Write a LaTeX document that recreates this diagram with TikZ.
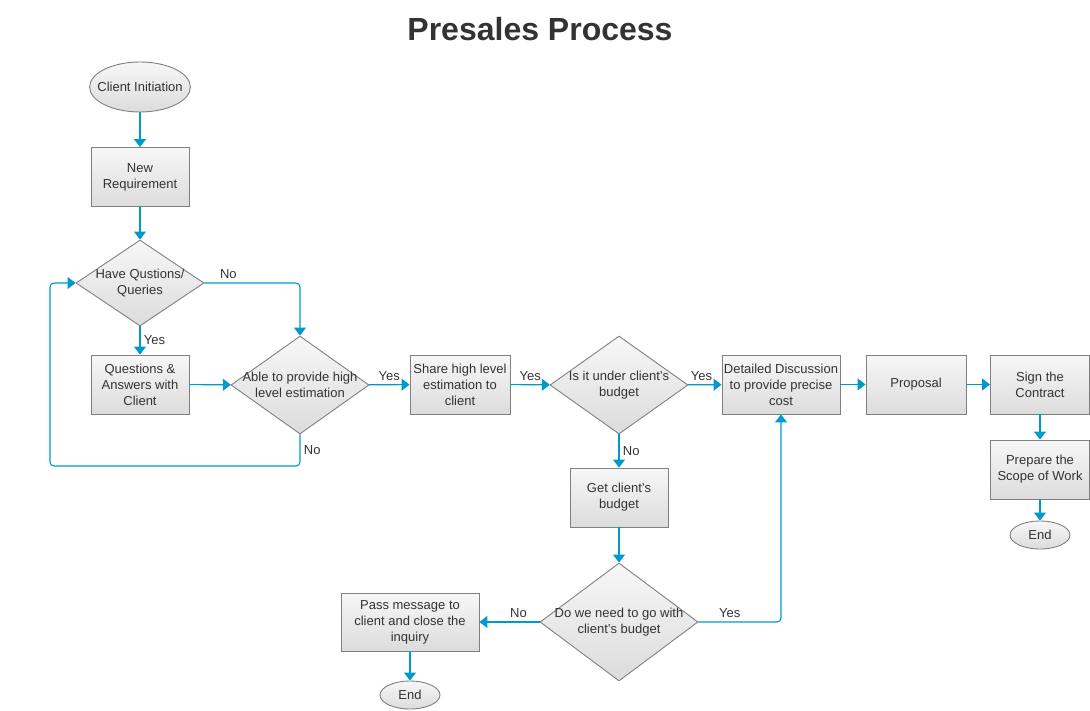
\documentclass[tikz,border=0pt]{standalone}
\usepackage{fontspec}
\setmainfont{Liberation Sans}
\usetikzlibrary{shapes.geometric,arrows.meta}
\definecolor{flowblue}{RGB}{0,153,204}
\definecolor{boxline}{RGB}{128,128,128}
\definecolor{boxtop}{RGB}{247,247,247}
\definecolor{boxbottom}{RGB}{220,220,220}
\definecolor{textgray}{RGB}{51,51,51}

\begin{document}
\begin{tikzpicture}[x=1pt, y=-1pt,
        every node/.style={text=textgray, font=\fontsize{13}{16}\selectfont},
        process/.style={draw=boxline, line width=0.9pt, top color=boxtop, bottom color=boxbottom,
            align=center, minimum width=98pt, minimum height=59pt, inner sep=0pt},
        decision/.style={diamond, draw=boxline, line width=0.9pt, top color=boxtop, bottom color=boxbottom,
            inner sep=0pt},
        terminal/.style={ellipse, draw=boxline, line width=0.9pt, top color=boxtop, bottom color=boxbottom,
            inner sep=0pt},
        flow/.style={draw=flowblue, line width=1.1pt, rounded corners=4pt,
            -{Triangle[width=12pt,length=8pt]}}]

        \useasboundingbox (0,0) rectangle (1090,710);

        \node [font=\fontsize{32}{38}\selectfont\bfseries] (title) at (540,29) {Presales Process};

        % first column

        \node [terminal, minimum width=100pt, minimum height=50pt, inner xsep=-7pt] (init) at (140,87) {Client Initiation};
        \node [process] (newreq) at (140,177) {New\\Requirement};
        \node [decision, minimum width=128pt, minimum height=86pt,
            label={[align=center]center:Have Qustions/\\Queries}] (queries) at (140,283) {};
        \node [process] (answers) at (140,384.5) {Questions \&\\Answers with\\Client};

        % estimation row

        \node [decision, minimum width=138pt, minimum height=98pt,
            label={[align=center]center:Able to provide high\\level estimation}] (estimate) at (300,385) {};
        \node [process, minimum width=100pt] (share) at (460,384.5) {Share high level\\estimation to\\client};
        \node [decision, minimum width=138pt, minimum height=98pt,
            label={[align=center]center:Is it under client's\\budget}] (underbudget) at (619,385) {};
        \node [process, minimum width=118pt] (detail) at (781,384.5) {Detailed Discussion\\to provide precise\\cost};
        \node [process, minimum width=100pt] (proposal) at (916,384.5) {Proposal};
        \node [process, minimum width=99pt] (sign) at (1040,384.5) {Sign the\\Contract};
        \node [process, minimum width=99pt] (scope) at (1040,469.5) {Prepare the\\Scope of Work};
        \node [terminal, minimum width=60pt, minimum height=28pt] (endwork) at (1040,535) {End};

        % budget branch

        \node [process] (getbudget) at (619,497.5) {Get client's\\budget};
        \node [decision, minimum width=158pt, minimum height=118pt,
            label={[align=center]center:Do we need to go with\\client's budget}] (gowith) at (619,622) {};
        \node [process, minimum width=138pt, minimum height=58pt] (pass) at (410,622) {Pass message to\\client and close the\\inquiry};
        \node [terminal, minimum width=60pt, minimum height=28pt] (endinquiry) at (410,695) {End};

        \coordinate (loopcorner) at (50,466);

        % connectors

        \draw [flow] (init) -- (newreq);
        \draw [flow] (newreq) -- (queries);
        \draw [flow] (queries) -- node [right] {Yes} (answers);
        \draw [flow] (queries.east) -| node [pos=0.125, above] {No} (estimate.north);
        \draw [flow] (answers) -- (estimate);
        \draw [flow] (estimate.south) |- node [pos=0.25, right] {No} (loopcorner) |- (queries.west);
        \draw [flow] (estimate) -- node [above] {Yes} (share);
        \draw [flow] (share) -- node [above] {Yes} (underbudget);
        \draw [flow] (underbudget) -- node [pos=0.4, above] {Yes} (detail);
        \draw [flow] (underbudget) -- node [right] {No} (getbudget);
        \draw [flow] (getbudget) -- (gowith);
        \draw [flow] (gowith) -- node [pos=0.35, above] {No} (pass);
        \draw [flow] (gowith.east) -| node [pos=0.19, above] {Yes} (detail.south);
        \draw [flow] (detail) -- (proposal);
        \draw [flow] (proposal) -- (sign);
        \draw [flow] (sign) -- (scope);
        \draw [flow] (scope) -- (endwork);
        \draw [flow] (pass) -- (endinquiry);

    \end{tikzpicture}
\end{document}
